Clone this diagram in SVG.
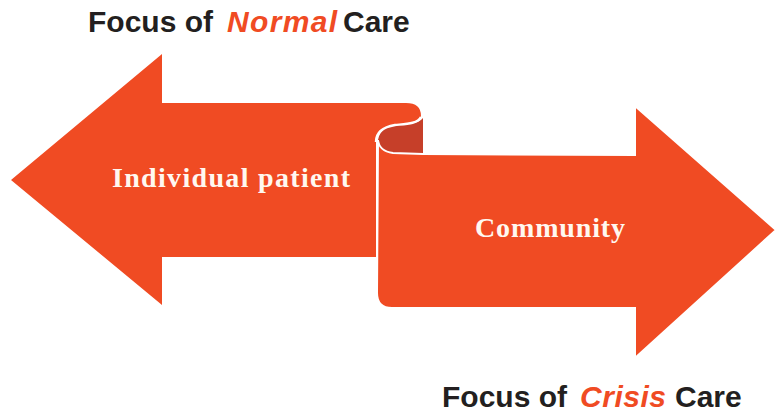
<svg xmlns="http://www.w3.org/2000/svg" width="776" height="414" viewBox="0 0 776 414">
  <style>
    .arrow { fill: #F04B23; }
    .fold { fill: #C63F29; }
    .label { font-family: "Liberation Serif", "DejaVu Serif", serif; font-weight: bold; fill: #FFF8F0; text-anchor: middle; }
    .title { font-family: "Liberation Sans", Arial, sans-serif; font-weight: bold; font-size: 30px; fill: #231F20; }
    .em { fill: #F04B23; font-style: italic; }
  </style>
  <rect width="776" height="414" fill="#FFFFFF"/>
  <g id="left-arrow">
    <path class="arrow" d="M 11 180 L 162 54 L 162 103 L 406 103 Q 421 103 421 116 C 418 124 405 124 395 125 C 383 127 376 132 376 142 L 376 257 L 162 257 L 162 305 Z"/>
    <text class="label" x="231" y="187" font-size="28" textLength="238" lengthAdjust="spacing">Individual patient</text>
  </g>
  <g id="connectors">
    <path class="fold" d="M 423 118 L 423 153 L 393 153 Q 379 151 378 140 C 380 129 388 126 397 125 C 410 124 419 123 423 118 Z"/>
    <path d="M 421 117 C 418 124 405 124 395 125 C 383 127 376 132 376 142" fill="none" stroke="#FFFFFF" stroke-width="2.5"/>
  </g>
  <g id="right-arrow">
    <path class="arrow" d="M 378 140 Q 379 151 393 153 L 423 154 L 635 155 L 635 106 L 776 230 L 635 358 L 635 308 L 392 308 Q 377 308 377 293 Z" stroke="#FFFFFF" stroke-width="2"/>
    <text class="label" x="550" y="237" font-size="28" textLength="150" lengthAdjust="spacing">Community</text>
  </g>
  <g id="title-normal">
    <text class="title" x="88" y="32">Focus of</text>
    <text class="title em" x="227" y="32" textLength="110" lengthAdjust="spacing">Normal</text>
    <text class="title" x="343" y="32">Care</text>
  </g>
  <g id="title-crisis">
    <text class="title" x="442" y="407">Focus of</text>
    <text class="title em" x="580" y="407" textLength="86" lengthAdjust="spacing">Crisis</text>
    <text class="title" x="675" y="407">Care</text>
  </g>
</svg>
